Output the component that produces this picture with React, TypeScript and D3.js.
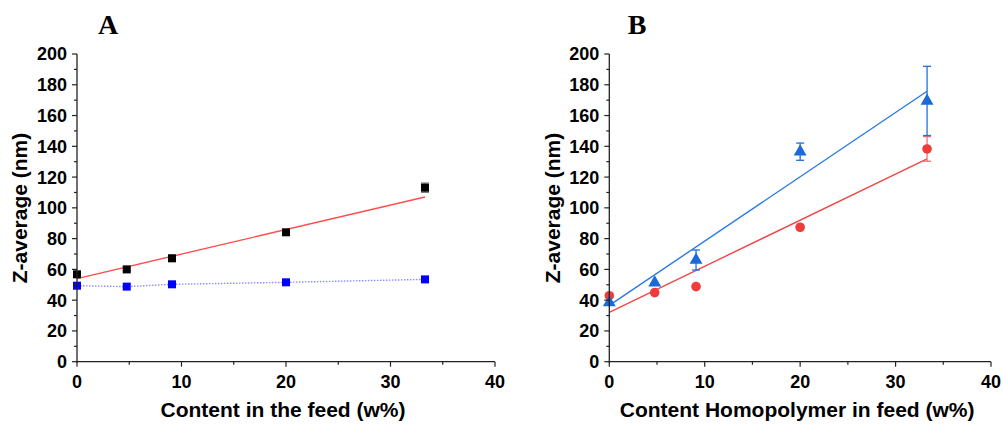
import React from "react";
import * as d3 from "d3";

// Homopolymer content in the feed (w%)
const feedContent = [0, 4.76, 9.09, 20, 33.3];

// Panel A
const sizeA_black = [56.8, 60.0, 67.2, 84.1, 113.1];
const errA_black = [1.0, 1.0, 2.0, 1.0, 3.0];
const sizeA_blue = [49.4, 48.8, 50.3, 51.6, 53.5];
const fitA = { slope: 1.594, intercept: 54.0 };

// Panel B
const sizeB_red = [42.9, 44.9, 48.8, 87.4, 138.3];
const errB_red = [0, 0, 0, 0, 8.0];
const sizeB_blue = [38.5, 51.3, 66.1, 136.5, 169.5];
const errB_blue = [0, 0, 6.5, 5.6, 22.5];
const fitB_red = { slope: 2.994, intercept: 32.1 };
const fitB_blue = { slope: 4.18, intercept: 36.6 };

const xTicks = [0, 10, 20, 30, 40];
const xMinor = [5, 15, 25, 35];
const yTicks = [0, 20, 40, 60, 80, 100, 120, 140, 160, 180, 200];
const yMinor = [10, 30, 50, 70, 90, 110, 130, 150, 170, 190];

const W = 1003;
const H = 424;
const SANS = "'Liberation Sans', Arial, sans-serif";
const SERIF = "'Liberation Serif', 'Times New Roman', serif";

type PanelProps = {
  x0: number;
  x1: number;
  letter: string;
  letterX: number;
  titleX: string;
  yTitleX: number;
  children: (x: d3.ScaleLinear<number, number>, y: d3.ScaleLinear<number, number>) => React.ReactNode;
};

const yScale = d3.scaleLinear().domain([0, 200]).range([361.7, 54]);

function Panel({ x0, x1, letter, letterX, titleX, yTitleX, children }: PanelProps) {
  const x = d3.scaleLinear().domain([0, 40]).range([x0, x1]);
  const y = yScale;
  const yb = y(0);
  return (
    <g>
      <text x={letterX} y={34} fontFamily={SERIF} fontWeight="bold" fontSize={28} textAnchor="middle">
        {letter}
      </text>
      {children(x, y)}
      {/* y axis */}
      <line x1={x0} x2={x0} y1={y(200)} y2={yb + 1} stroke="#222" strokeWidth={1.3} />
      {yTicks.map((t) => (
        <g key={"yt" + t}>
          <line x1={x0 - 5} x2={x0} y1={y(t)} y2={y(t)} stroke="#222" strokeWidth={1.2} />
          <text x={x0 - 10} y={y(t)} dy="0.36em" textAnchor="end" fontFamily={SANS} fontWeight="bold" fontSize={18}>
            {t}
          </text>
        </g>
      ))}
      {yMinor.map((t) => (
        <line key={"ym" + t} x1={x0 - 3} x2={x0} y1={y(t)} y2={y(t)} stroke="#222" strokeWidth={1.2} />
      ))}
      {/* x axis */}
      <line x1={x0} x2={x1} y1={yb} y2={yb} stroke="#222" strokeWidth={1.3} />
      {xTicks.map((t) => (
        <g key={"xt" + t}>
          <line x1={x(t)} x2={x(t)} y1={yb} y2={yb + 5} stroke="#222" strokeWidth={1.2} />
          <text x={x(t)} y={387.5} textAnchor="middle" fontFamily={SANS} fontWeight="bold" fontSize={18}>
            {t}
          </text>
        </g>
      ))}
      {xMinor.map((t) => (
        <line key={"xm" + t} x1={x(t)} x2={x(t)} y1={yb} y2={yb + 3} stroke="#222" strokeWidth={1.2} />
      ))}
      <text x={(x0 + x1) / 2 - 3} y={417} textAnchor="middle" fontFamily={SANS} fontWeight="bold" fontSize={21}>
        {titleX}
      </text>
      <text
        transform={`translate(${yTitleX},208) rotate(-90)`}
        textAnchor="middle"
        dy="0.35em"
        fontFamily={SANS}
        fontWeight="bold"
        fontSize={21}
      >
        Z-average (nm)
      </text>
    </g>
  );
}

function ErrorBar({ cx, lo, hi, color, cap = 4 }: { cx: number; lo: number; hi: number; color: string; cap?: number }) {
  return (
    <g stroke={color} strokeWidth={1.3}>
      <line x1={cx} x2={cx} y1={lo} y2={hi} />
      <line x1={cx - cap} x2={cx + cap} y1={lo} y2={lo} />
      <line x1={cx - cap} x2={cx + cap} y1={hi} y2={hi} />
    </g>
  );
}

function fitPath(x: d3.ScaleLinear<number, number>, y: d3.ScaleLinear<number, number>, fit: { slope: number; intercept: number }) {
  const xs = [feedContent[0], feedContent[feedContent.length - 1]];
  return d3.line<number>()
    .x((v) => x(v))
    .y((v) => y(fit.intercept + fit.slope * v))(xs) as string;
}

export default function App() {
  const tri = d3.symbol().type(d3.symbolTriangle).size(72)() as string;
  return (
    <svg width={W} height={H} style={{ position: "absolute", left: 0, top: 0, background: "#fff" }}>
      <rect width={W} height={H} fill="#fff" />
      <Panel x0={77} x1={495} letter="A" letterX={108} titleX="Content in the feed (w%)" yTitleX={20}>
        {(x, y) => (
          <g>
            <path
              d={
                d3.line<number>()
                  .x((_, i) => x(feedContent[i]))
                  .y((v) => y(v))(sizeA_blue) as string
              }
              fill="none"
              stroke="#8c8cff"
              strokeWidth={1.4}
              strokeDasharray="1.5,1.5"
            />
            <path d={fitPath(x, y, fitA)} fill="none" stroke="#ff4d4d" strokeWidth={1.4} />
            {sizeA_black.map((v, i) => (
              <g key={"ab" + i}>
                <ErrorBar cx={x(feedContent[i])} lo={y(v - errA_black[i])} hi={y(v + errA_black[i])} color="#777" cap={4} />
                <rect x={x(feedContent[i]) - 4} y={y(v) - 4} width={8} height={8} fill="#000" />
              </g>
            ))}
            {sizeA_blue.map((v, i) => (
              <rect key={"aq" + i} x={x(feedContent[i]) - 4} y={y(v) - 4} width={8} height={8} fill="#0000ff" />
            ))}
          </g>
        )}
      </Panel>
      <Panel x0={609.3} x1={991} letter="B" letterX={637} titleX="Content Homopolymer in feed (w%)" yTitleX={553}>
        {(x, y) => (
          <g>
            <path d={fitPath(x, y, fitB_red)} fill="none" stroke="#f04848" strokeWidth={1.4} />
            <path d={fitPath(x, y, fitB_blue)} fill="none" stroke="#2a7ae2" strokeWidth={1.4} />
            {sizeB_red.map((v, i) =>
              errB_red[i] > 0 ? (
                <ErrorBar key={"rer" + i} cx={x(feedContent[i])} lo={y(v - errB_red[i])} hi={y(v + errB_red[i])} color="#f07070" cap={4} />
              ) : null
            )}
            {sizeB_red.map((v, i) => (
              <circle key={"rc" + i} cx={x(feedContent[i])} cy={y(v)} r={4.8} fill="#ef3b3b" />
            ))}
            {sizeB_blue.map((v, i) =>
              errB_blue[i] > 0 ? (
                <ErrorBar key={"ber" + i} cx={x(feedContent[i])} lo={y(v - errB_blue[i])} hi={y(v + errB_blue[i])} color="#1f6fdc" cap={4} />
              ) : null
            )}
            {sizeB_blue.map((v, i) => (
              <path key={"bt" + i} d={tri} transform={`translate(${x(feedContent[i])},${y(v)})`} fill="#1a6ada" />
            ))}
          </g>
        )}
      </Panel>
    </svg>
  );
}
